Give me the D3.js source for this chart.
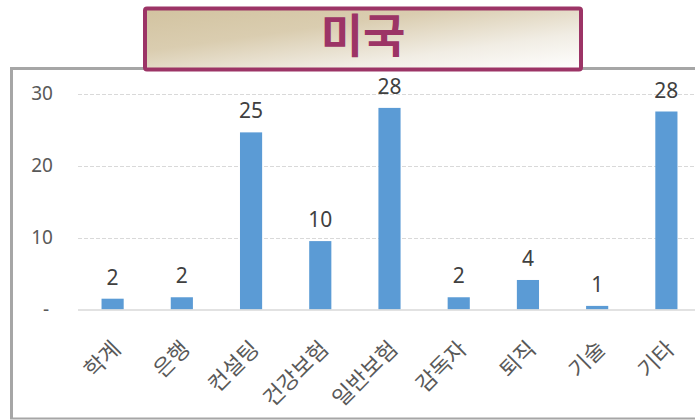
<!DOCTYPE html>
<html>
<head>
<meta charset="utf-8">
<script src="https://cdn.jsdelivr.net/npm/d3@7"></script>
<style>
  body { margin: 0; background: #fff; }
  svg { display: block; font-family: "Noto Sans", "Noto Sans CJK KR", sans-serif; }
</style>
</head>
<body>
<script>
const categories = ["학계", "은행", "컨설팅", "건강보험", "일반보험", "감독자", "퇴직", "기술", "기타"];
const values = [1.5, 1.7, 24.6, 9.5, 28.0, 1.7, 4.1, 0.5, 27.5];
const yTicks = [0, 10, 20, 30];
const title = "미국";

const width = 695, height = 420;
const svg = d3.select("body").append("svg").attr("width", width).attr("height", height);

// chart frame (right side runs off the picture)
svg.append("path")
  .attr("d", "M 11.5 418 L 11.5 68.5 L 700 68.5")
  .attr("fill", "none")
  .attr("stroke", "#a6a6a6")
  .attr("stroke-width", 3);
svg.append("line")
  .attr("x1", 10).attr("x2", 700).attr("y1", 418.5).attr("y2", 418.5)
  .attr("stroke", "#a6a6a6").attr("stroke-width", 2);

const x = d3.scaleBand().domain(categories).range([78, 701]).paddingInner(0.68).paddingOuter(0.34);
const y = d3.scaleLinear().domain([0, 30]).range([309.5, 93.5]);

// gridlines
svg.selectAll("line.grid")
  .data(yTicks.filter(d => d > 0))
  .enter().append("line")
  .attr("class", "grid")
  .attr("x1", 78).attr("x2", 700)
  .attr("y1", d => Math.round(y(d)) + 0.5).attr("y2", d => Math.round(y(d)) + 0.5)
  .attr("stroke", "#d9d9d9")
  .attr("stroke-dasharray", "4,2");

// y tick labels
svg.selectAll("text.ytick")
  .data(yTicks)
  .enter().append("text")
  .attr("class", "ytick")
  .attr("x", d => d === 0 ? 49 : 53)
  .attr("y", d => y(d))
  .attr("dy", "0.35em")
  .attr("text-anchor", "end")
  .attr("font-size", 19)
  .attr("fill", "#595959")
  .text(d => d === 0 ? "-" : d);

// bars
svg.selectAll("rect.bar")
  .data(values)
  .enter().append("rect")
  .attr("class", "bar")
  .attr("x", (d, i) => x(categories[i]))
  .attr("width", x.bandwidth())
  .attr("y", d => y(d))
  .attr("height", d => y(0) - y(d))
  .attr("fill", "#5b9bd5");

// baseline
svg.append("line")
  .attr("x1", 78).attr("x2", 700)
  .attr("y1", y(0) + 0.5).attr("y2", y(0) + 0.5)
  .attr("stroke", "#d9d9d9")
  .attr("stroke-width", 1.5);

// data labels
svg.selectAll("text.val")
  .data(values)
  .enter().append("text")
  .attr("class", "val")
  .attr("x", (d, i) => x(categories[i]) + x.bandwidth() / 2)
  .attr("y", d => y(d) - 14)
  .attr("text-anchor", "middle")
  .attr("font-size", 21)
  .attr("fill", "#404040")
  .text(d => Math.round(d));

// category labels
svg.selectAll("text.cat")
  .data(categories)
  .enter().append("text")
  .attr("class", "cat")
  .attr("transform", d => `translate(${x(d) + x.bandwidth() / 2 + 4}, 345) rotate(-45)`)
  .attr("dy", "0.35em")
  .attr("text-anchor", "end")
  .attr("font-size", 22)
  .attr("fill", "#595959")
  .text(d => d);

// title box
const grad = svg.append("defs").append("linearGradient")
  .attr("id", "titleGrad")
  .attr("x1", "0%").attr("y1", "0%").attr("x2", "100%").attr("y2", "100%");
grad.append("stop").attr("offset", "0%").attr("stop-color", "#d2c3a0");
grad.append("stop").attr("offset", "35%").attr("stop-color", "#dacdb0");
grad.append("stop").attr("offset", "70%").attr("stop-color", "#f1ede4");
grad.append("stop").attr("offset", "100%").attr("stop-color", "#ffffff");

svg.append("rect")
  .attr("x", 145).attr("y", 8.5)
  .attr("width", 436).attr("height", 61)
  .attr("rx", 2)
  .attr("fill", "url(#titleGrad)")
  .attr("stroke", "#9c3466")
  .attr("stroke-width", 4);

svg.append("text")
  .attr("x", 363).attr("y", 36)
  .attr("dy", "0.35em")
  .attr("text-anchor", "middle")
  .attr("font-size", 46)
  .attr("font-weight", "bold")
  .attr("font-family", "'Noto Sans CJK KR', sans-serif")
  .attr("fill", "#9c3466")
  .text(title);
</script>
</body>
</html>
